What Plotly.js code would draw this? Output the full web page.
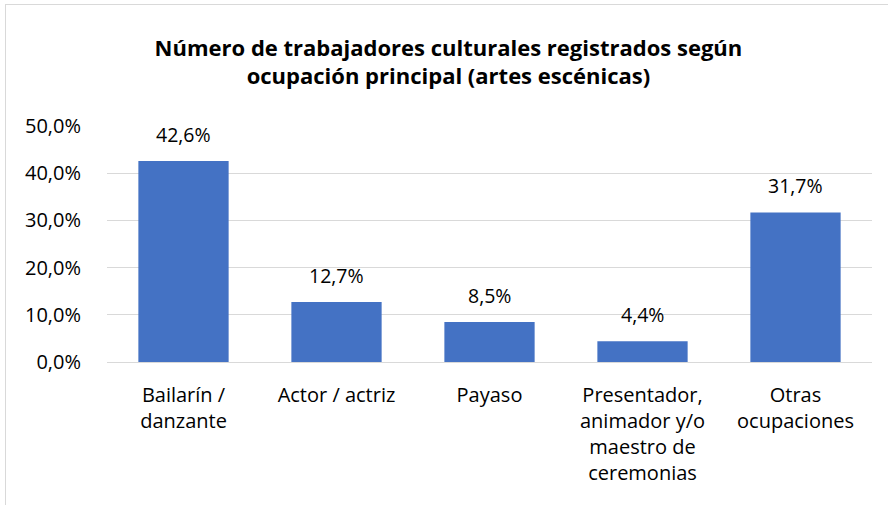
<!DOCTYPE html>
<html>
<head>
<meta charset="utf-8">
<script src="https://cdn.plot.ly/plotly-3.0.1.min.js"></script>
<style>
html,body{margin:0;padding:0;background:#fff;overflow:hidden;}
#chart{width:888px;height:505px;position:absolute;left:0;top:0;}
#frame{position:absolute;left:5px;top:4px;width:1000px;height:700px;border:1px solid #d9d9d9;pointer-events:none;}
</style>
</head>
<body>
<div id="chart"></div>
<div id="frame"></div>
<script>
const categories = ["Bailarín /<br>danzante", "Actor / actriz", "Payaso", "Presentador,<br>animador y/o<br>maestro de<br>ceremonias", "Otras<br>ocupaciones"];
const values = [42.6, 12.7, 8.5, 4.4, 31.7];
const yTicks = [0, 10, 20, 30, 40, 50];
const yTickLabels = ["0,0%", "10,0%", "20,0%", "30,0%", "40,0%", "50,0%"];
const valueLabels = ["42,6%", "12,7%", "8,5%", "4,4%", "31,7%"];
const titleText = "Número de trabajadores culturales registrados según<br>ocupación principal (artes escénicas)";

const FONT = "'Open Sans', sans-serif";

const trace = {
  type: "bar",
  x: categories,
  y: values,
  marker: {color: "#4472C4"},
  hoverinfo: "skip"
};

const annotations = categories.map((c, i) => ({
  x: c, y: values[i], xref: "x", yref: "y",
  text: valueLabels[i], showarrow: false,
  yanchor: "bottom", yshift: 11,
  font: {family: FONT, size: 19.5, color: "#000"}
}));

const layout = {
  width: 888, height: 505,
  margin: {l: 107, r: 16, t: 126, b: 143},
  paper_bgcolor: "#fff", plot_bgcolor: "#fff",
  separators: ",.",
  bargap: 0.41,
  showlegend: false,
  font: {family: FONT, size: 20, color: "#000"},
  title: {
    text: titleText,
    font: {family: FONT, size: 22, color: "#000", weight: "bold"},
    x: 0.505, xanchor: "center", xref: "container",
    y: 0.89, yanchor: "top", yref: "container"
  },
  annotations: annotations,
  xaxis: {
    type: "category",
    showgrid: false, zeroline: false, showline: false,
    ticks: "outside", ticklen: 15, tickcolor: "rgba(0,0,0,0)",
    tickfont: {family: FONT, size: 20, color: "#000"},
    fixedrange: true
  },
  yaxis: {
    range: [0, 50],
    tickvals: yTicks,
    ticktext: yTickLabels,
    showgrid: true, gridcolor: "#d9d9d9", gridwidth: 1,
    zeroline: true, zerolinecolor: "#d9d9d9", zerolinewidth: 1,
    showline: false,
    ticks: "outside", ticklen: 21, tickcolor: "rgba(0,0,0,0)",
    tickfont: {family: FONT, size: 20, color: "#000"},
    fixedrange: true
  }
};

Plotly.newPlot("chart", [trace], layout, {displayModeBar: false, staticPlot: true});
</script>
</body>
</html>
